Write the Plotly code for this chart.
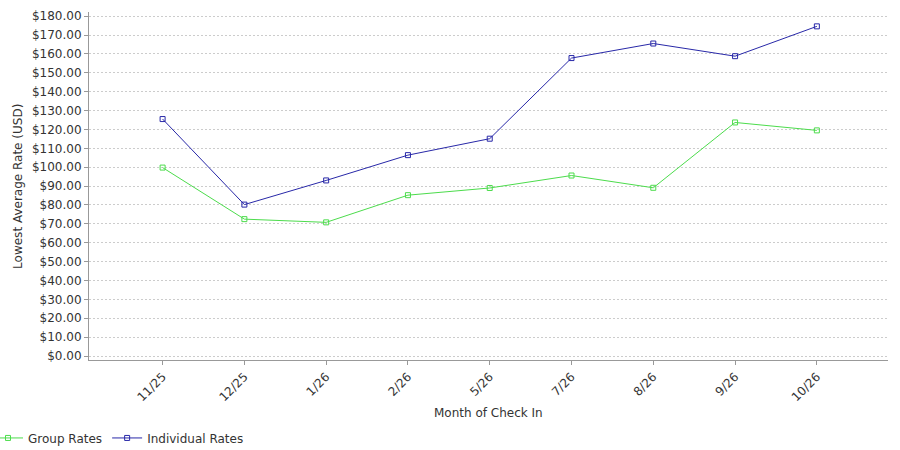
import plotly.graph_objects as go

months = ["11/25", "12/25", "1/26", "2/26", "5/26", "7/26", "8/26", "9/26", "10/26"]
group_rates = [99.8, 72.5, 70.8, 85.2, 89.0, 95.6, 89.1, 123.7, 119.5]
individual_rates = [125.5, 80.2, 93.0, 106.4, 115.1, 157.8, 165.5, 158.8, 174.6]
y_ticks = list(range(0, 190, 10))
y_labels = ["$%d.00" % v for v in y_ticks]

fnt = dict(family="DejaVu Sans", size=12, color="#333333")

fig = go.Figure()
fig.add_trace(go.Scatter(
    x=months, y=group_rates, name="Group Rates", mode="lines+markers",
    line=dict(color="#4cdc4c", width=1),
    marker=dict(symbol="square-open", size=5, color="#4cdc4c", line=dict(width=1)),
))
fig.add_trace(go.Scatter(
    x=months, y=individual_rates, name="Individual Rates", mode="lines+markers",
    line=dict(color="#2828a8", width=1),
    marker=dict(symbol="square-open", size=5, color="#2828a8", line=dict(width=1)),
))

fig.update_layout(
    width=900, height=450,
    margin=dict(l=89, r=12, t=12, b=90, autoexpand=False),
    paper_bgcolor="white", plot_bgcolor="white",
    font=fnt,
    showlegend=True,
    legend=dict(orientation="h", x=-0.1264, xanchor="left", y=-0.224, yanchor="middle",
                font=fnt, itemwidth=30, tracegroupgap=0, bgcolor="rgba(0,0,0,0)"),
    annotations=[
        dict(text="Month of Check In", xref="paper", yref="paper", x=0.5, y=-0.152,
             showarrow=False, font=fnt, xanchor="center", yanchor="middle"),
        dict(text="Lowest Average Rate (USD)", xref="paper", yref="paper", x=-0.089, y=0.5,
             showarrow=False, font=fnt, textangle=-90, xanchor="center", yanchor="middle"),
    ],
)
fig.update_xaxes(
    type="category", range=[-0.9, 8.87], automargin=False,
    tickangle=-45, tickfont=fnt,
    ticks="outside", ticklen=4, tickcolor="#999999",
    showline=True, linecolor="#999999", linewidth=1,
    showgrid=False, zeroline=False,
)
fig.update_yaxes(
    range=[-2.1, 182.2], automargin=False,
    tickvals=y_ticks, ticktext=y_labels, tickfont=fnt,
    ticks="outside", ticklen=4, tickcolor="#999999",
    showline=True, linecolor="#999999", linewidth=1,
    showgrid=True, gridcolor="#cccccc", griddash="2px,2px", gridwidth=1,
    zeroline=False,
)

# page body has an 8px default margin; drop it so the figure fills the window
fig.write_html("out.html", config={"displayModeBar": False},
               post_script="document.body.style.margin='0px';")
